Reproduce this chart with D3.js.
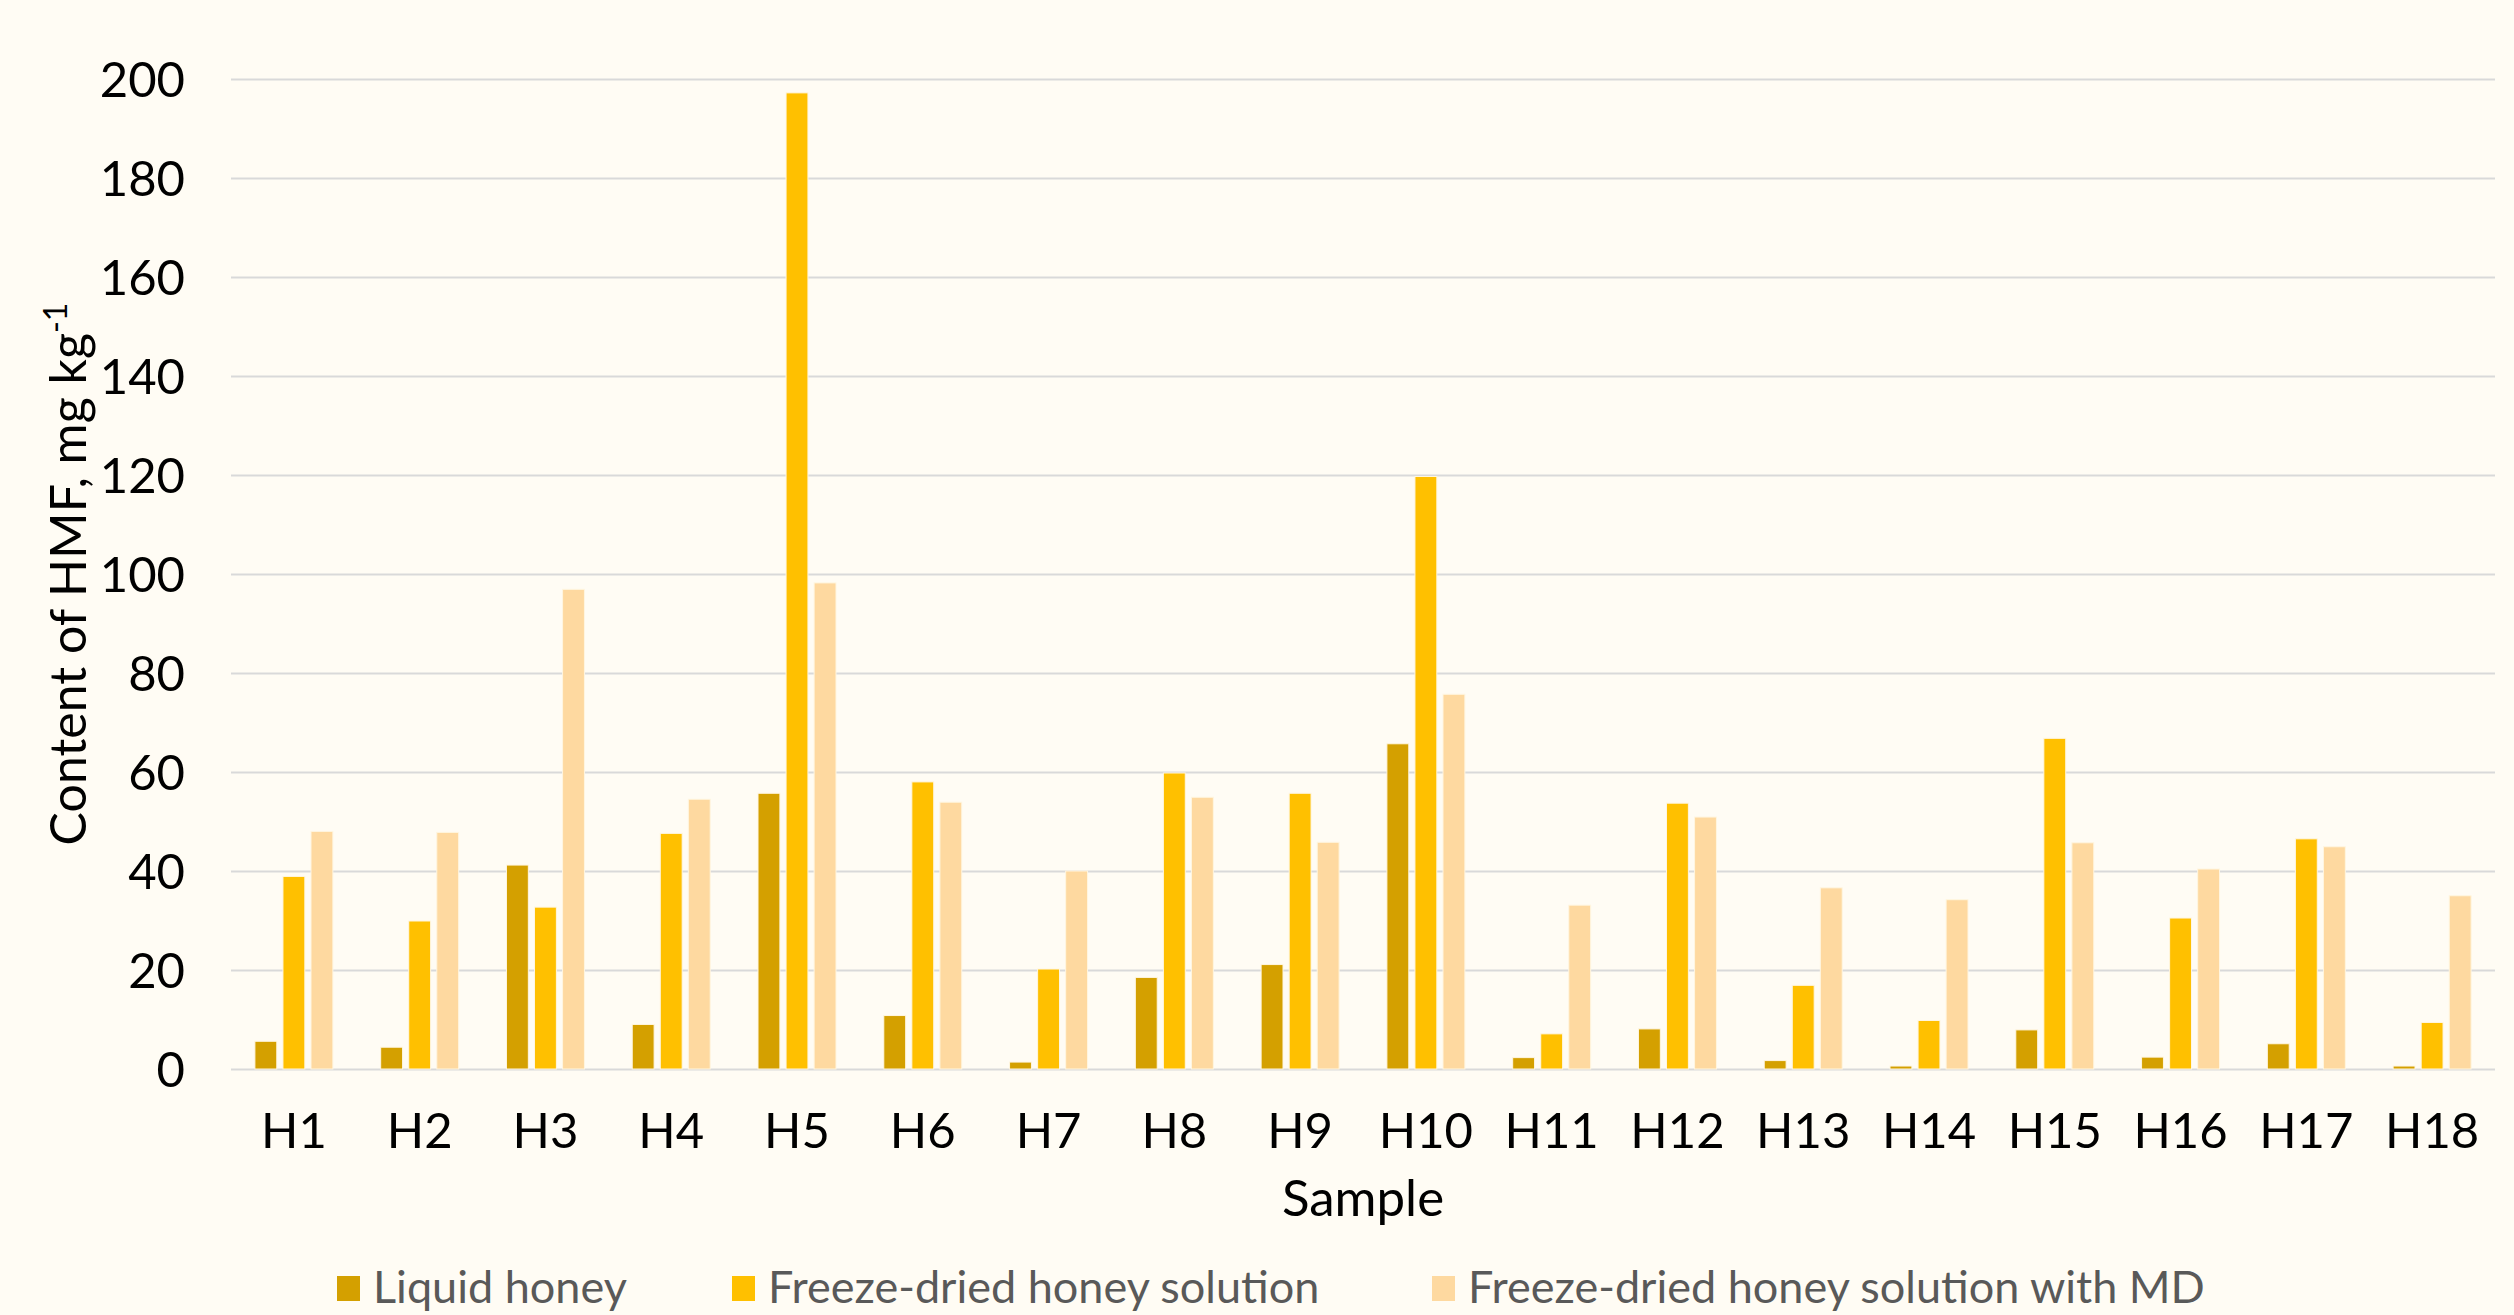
<!DOCTYPE html>
<html>
<head>
  <meta charset="utf-8">
  <title>HMF content by sample</title>
  <script src="https://cdn.jsdelivr.net/npm/d3@7/dist/d3.min.js"></script>
  <style>
    body { margin: 0; background: #fffcf4; }
    svg { display: block; font-family: Lato, "Noto Sans", sans-serif; }
    .grid line { stroke: #d9d9d9; stroke-width: 2px; }
    .grid .domain { display: none; }
    .tick-label text { fill: #000; font-size: 49px; font-family: Lato, "Noto Sans", sans-serif; }
    .legend text { fill: #595959; font-size: 45px; }
  </style>
</head>
<body>
<svg id="chart" width="2514" height="1315"></svg>
<script>
  // data
  const samples = ['H1', 'H2', 'H3', 'H4', 'H5', 'H6', 'H7', 'H8', 'H9',
    'H10', 'H11', 'H12', 'H13', 'H14', 'H15', 'H16', 'H17', 'H18'];
  const liquid = [5.6, 4.4, 41.2, 9.0, 55.7, 10.8, 1.4, 18.5, 21.1,
    65.7, 2.3, 8.1, 1.7, 0.6, 7.9, 2.4, 5.1, 0.6];
  const freezeDried = [38.9, 29.9, 32.7, 47.6, 197.2, 58.0, 20.2, 59.8, 55.7,
    119.7, 7.1, 53.7, 16.9, 9.8, 66.8, 30.5, 46.5, 9.4];
  const freezeDriedMD = [48.0, 47.8, 96.9, 54.5, 98.2, 53.9, 40.0, 54.9, 45.8,
    75.7, 33.1, 50.9, 36.6, 34.2, 45.7, 40.4, 44.9, 35.0];
  const seriesNames = ['Liquid honey', 'Freeze-dried honey solution', 'Freeze-dried honey solution with MD'];
  const seriesColors = ['#d4a000', '#ffc000', '#fed9a0'];
  const yTicks = [0, 20, 40, 60, 80, 100, 120, 140, 160, 180, 200];

  const series = [liquid, freezeDried, freezeDriedMD];

  var svg = d3.select('#chart'),
    margin = { left: 231, right: 19, top: 79, bottom: 246 },
    width = +svg.attr('width') - margin.left - margin.right,
    height = +svg.attr('height') - margin.top - margin.bottom;

  svg.append('rect').attr('width', 2514).attr('height', 1315).attr('fill', '#fffcf4');

  var g = svg.append('g').attr('transform', `translate(${margin.left},${margin.top})`);

  var x0 = d3.scaleBand().domain(samples).range([0, width])
    .paddingInner(0.38).paddingOuter(0.19);
  var x1 = d3.scaleBand().domain(d3.range(series.length)).range([0, x0.bandwidth()])
    .paddingInner(0.22);
  var y = d3.scaleLinear().domain([0, 200]).range([height, 0]);

  // gridlines
  g.append('g')
    .attr('class', 'grid')
    .call(d3.axisLeft(y).tickValues(yTicks).tickSize(-width).tickFormat(''));

  // bars
  var groups = g.append('g')
    .selectAll('g')
    .data(samples)
    .enter()
    .append('g')
    .attr('transform', d => `translate(${x0(d)},0)`);

  groups.selectAll('rect')
    .data((d, i) => series.map((s, k) => ({ k: k, v: s[i] })))
    .enter()
    .append('rect')
    .attr('x', d => x1(d.k))
    .attr('width', x1.bandwidth())
    .attr('y', d => y(d.v))
    .attr('height', d => y(0) - y(d.v))
    .attr('fill', d => seriesColors[d.k])
    .attr('stroke', '#fff6e0')
    .attr('stroke-width', 1);

  // y axis labels
  var yAxis = g.append('g')
    .attr('class', 'tick-label')
    .call(d3.axisLeft(y).tickValues(yTicks).tickSize(0).tickPadding(46));
  yAxis.attr('font-family', null).attr('font-size', null);
  yAxis.select('.domain').remove();
  yAxis.selectAll('text').attr('dy', '0.36em');

  // x axis labels
  var xAxis = g.append('g')
    .attr('class', 'tick-label')
    .attr('transform', `translate(0,${height})`)
    .call(d3.axisBottom(x0).tickSize(0));
  xAxis.attr('font-family', null).attr('font-size', null);
  xAxis.select('.domain').remove();
  xAxis.selectAll('text').attr('y', 79).attr('dy', 0);

  // axis titles
  svg.append('text')
    .attr('x', margin.left + width / 2)
    .attr('y', 1216)
    .attr('text-anchor', 'middle')
    .style('font-size', '51px')
    .attr('fill', '#000')
    .text('Sample');

  var yTitle = svg.append('text')
    .attr('transform', `translate(86,${margin.top + height / 2}) rotate(-90)`)
    .attr('text-anchor', 'middle')
    .style('font-size', '50px')
    .attr('fill', '#000');
  yTitle.append('tspan').text('Content of HMF, mg kg');
  yTitle.append('tspan').attr('dy', '-0.6em').style('font-size', '32px').text('-1');

  // legend
  var legendX = [337, 732, 1432];
  var legend = svg.append('g').attr('class', 'legend')
    .selectAll('g')
    .data(seriesNames)
    .enter()
    .append('g')
    .attr('transform', (d, i) => `translate(${legendX[i]},1303)`);

  legend.append('rect')
    .attr('x', 0).attr('y', -27)
    .attr('width', 23).attr('height', 25)
    .attr('fill', (d, i) => seriesColors[i]);

  legend.append('text')
    .attr('x', 36)
    .attr('y', 0)
    .text(d => d);
</script>
</body>
</html>
